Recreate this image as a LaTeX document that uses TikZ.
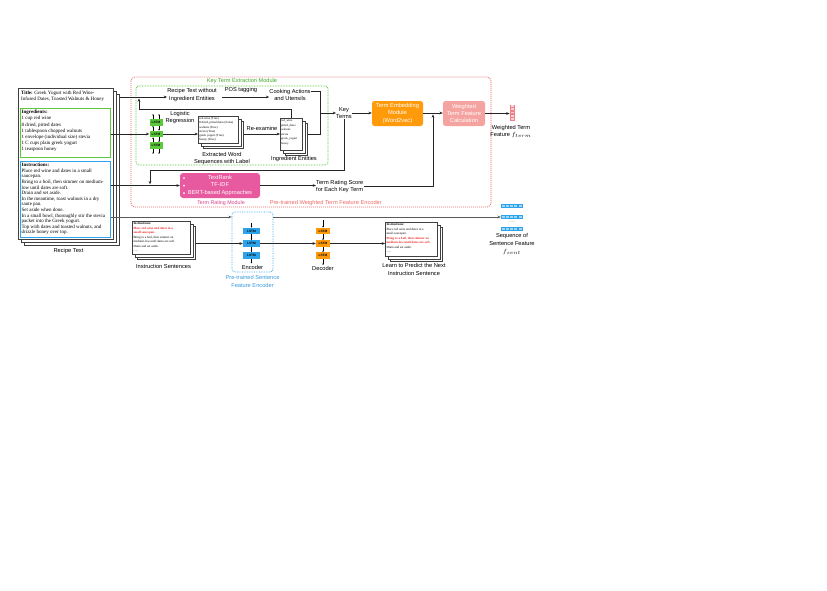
\documentclass[tikz,border=0pt]{standalone}
\usepackage{fontspec}
\setmainfont{Liberation Serif}
\setsansfont{Liberation Sans}
\usetikzlibrary{arrows.meta,calc}
\definecolor{kgreen}{HTML}{5CC83B}
\definecolor{kgreentxt}{HTML}{3DAA22}
\definecolor{kred}{HTML}{F06A6A}
\definecolor{kmag}{HTML}{E85AA0}
\definecolor{kmagtxt}{HTML}{D6408A}
\definecolor{korange}{HTML}{FF9A0A}
\definecolor{ksalmon}{HTML}{F5A3A0}
\definecolor{kpink}{HTML}{F27E86}
\definecolor{kblue}{HTML}{2CA3EA}
\definecolor{kbluetxt}{HTML}{3A9BDC}
\definecolor{ktxtred}{HTML}{F02828}
\newcommand\lbfont{\sffamily\fontsize{5.7}{7.4}\selectfont}
\newcommand\smfont{\rmfamily\fontsize{3.2}{4.5}\selectfont}
\newcommand\tnfont{\rmfamily\fontsize{3.1}{4.2}\selectfont}
\newcommand\lsfont{\sffamily\bfseries\fontsize{3.2}{3.2}\selectfont}
\begin{document}
\begin{tikzpicture}[x=1pt,y=-1pt,
  >={Stealth[length=3.3pt,width=2.7pt]},
  arr/.style={->,draw=black!85,line width=0.8pt},
  plain/.style={draw=black!85,line width=0.8pt},
  sarr/.style={-{Stealth[length=1.4pt,width=1.5pt]},draw=black,line width=0.35pt},
  lbl/.style={font=\lbfont,align=center,inner sep=0pt},
  sheet/.style={draw=black!75,fill=white,line width=0.5pt,anchor=north west,inner sep=0pt},
  fbox/.style={rounded corners=2.5pt,inner sep=0pt,text=white,font=\lbfont,align=center},
  lstm/.style={inner sep=0pt,minimum height=6.5pt,font=\lsfont},
  vec/.style={fill=kblue,minimum width=22pt,minimum height=4pt,inner sep=0pt}
  ]
\useasboundingbox (0,0) rectangle (827,590);
\fill[white] (0,0) rectangle (827,590);

% ---------- frames ----------
\draw[kred,dash pattern=on 1.1pt off 0.9pt,line width=0.75pt,rounded corners=4pt] (131,77) rectangle (491,207);
\draw[kgreen,dash pattern=on 0.8pt off 0.8pt,line width=0.7pt,rounded corners=3pt] (136,86) rectangle (328,165);
\node[font=\sffamily\fontsize{5.6}{6}\selectfont,text=kgreentxt,inner sep=0pt] (ktl) at (242,81.5) {Key Term Extraction Module};
\node[font=\sffamily\fontsize{5.7}{6}\selectfont,text=kred,anchor=east,inner sep=0pt] (ptl) at (382,203.5) {Pre-trained Weighted Term Feature Encoder};

% ---------- recipe card ----------
\node[sheet,minimum width=95pt,minimum height=151pt] (rsC) at (24,94) {};
\node[sheet,minimum width=95pt,minimum height=151pt] (rsB) at (21,91) {};
\node[sheet,minimum width=95pt,minimum height=151pt] (rsA) at (18,88) {};
\node[anchor=north west,inner sep=0pt,align=left,font=\rmfamily\fontsize{5}{6.6}\selectfont] (ttl) at (21,90.5)
  {\textbf{Title:} Greek Yogurt with Red Wine-\\Infused Dates, Toasted Walnuts \& Honey};
\node[draw=kgreen,line width=0.6pt,anchor=north west,minimum width=90pt,minimum height=49pt,inner sep=0pt] (ing) at (20,108) {};
\node[anchor=north west,inner sep=0pt,align=left,font=\rmfamily\fontsize{5}{6.2}\selectfont] (ingt) at (21.5,110)
  {\textbf{Ingredients:}\\1 cup red wine\\8 dried, pitted dates\\1 tablespoon chopped walnuts\\1 envelope (individual size) stevia\\1 C cups plain greek yogurt\\1 teaspoon honey};
\node[draw=kblue,line width=0.6pt,anchor=north west,minimum width=90pt,minimum height=76pt,inner sep=0pt] (ins) at (20,161) {};
\node[anchor=north west,inner sep=0pt,align=left,font=\rmfamily\fontsize{5}{5.6}\selectfont] (inst) at (21.5,163)
  {\textbf{Instructions:}\\Place red wine and dates in a small\\saucepan.\\Bring to a boil, then simmer on medium-\\low until dates are soft.\\Drain and set aside.\\In the meantime, toast walnuts in a dry\\saute pan.\\Set aside when done.\\In a small bowl, thoroughly stir the stevia\\packet into the Greek yogurt.\\Top with dates and toasted walnuts, and\\drizzle honey over top.};
\node[lbl] (rtl) at (68.5,251) {Recipe Text};

% ---------- key term extraction ----------
\node[lbl] (rtw) at (192,95) {Recipe Text without\\Ingredient Entities};
\node[lbl] (pos) at (241,90.5) {POS tagging};
\node[lbl] (ca) at (290,95) {Cooking Actions\\and Utensils};
\draw[arr] (rsC.east |- 0,97) -- (rtw.west |- 0,97);
\draw[arr,shorten <=5pt] (rtw.east |- 0,97) -- (ca.west |- 0,97);

\node[lstm,fill=kgreen,minimum width=13pt] (l1) at (156,122.5) {LSTM};
\node[lstm,fill=kgreen,minimum width=13pt] (l2) at (156,134) {LSTM};
\node[lstm,fill=kgreen,minimum width=13pt] (l3) at (156,145.5) {LSTM};
\draw[sarr] ([xshift=-3pt]l1.north) -- ([xshift=-3pt,yshift=5pt]l1.north);
\draw[sarr] ([xshift=3pt]l1.north) -- ([xshift=3pt,yshift=5pt]l1.north);
\draw[sarr] ([xshift=-3pt]l2.north) -- ([xshift=-3pt]l1.south);
\draw[sarr] ([xshift=3pt]l1.south) -- ([xshift=3pt]l2.north);
\draw[sarr] ([xshift=-3pt]l3.north) -- ([xshift=-3pt]l2.south);
\draw[sarr] ([xshift=3pt]l2.south) -- ([xshift=3pt]l3.north);
\draw[sarr] ([xshift=-3pt]l3.south) -- ([xshift=-3pt,yshift=-5pt]l3.south);
\draw[sarr] ([xshift=3pt]l3.south) -- ([xshift=3pt,yshift=-5pt]l3.south);
\draw[arr] (ing.east |- l2) -- (l2.west);

\node[lbl] (lr) at (180,117.5) {Logistic\\Regression};
\node[sheet,minimum width=40pt,minimum height=27pt] (exC) at (203,121) {};
\node[sheet,minimum width=40pt,minimum height=27pt] (exB) at (200.5,118.5) {};
\node[sheet,minimum width=40pt,minimum height=27pt] (exA) at (198,116) {};
\node[anchor=north west,inner sep=0pt,align=left,font=\tnfont] (ext) at (199.2,117.4)
  {red wine (True)\\8 dried, pitted dates (False)\\walnuts (True)\\stevia (True)\\greek yogurt (True)\\honey (True)};
\node[lbl] (exl) at (222,158.5) {Extracted Word\\Sequences with Label};
\draw[arr] (l2.east) -- (exA.west |- l2);

\node[sheet,minimum width=22pt,minimum height=32pt] (ieC) at (285,123) {};
\node[sheet,minimum width=22pt,minimum height=32pt] (ieB) at (282.5,120.5) {};
\node[sheet,minimum width=22pt,minimum height=32pt] (ieA) at (280,118) {};
\node[anchor=north west,inner sep=0pt,align=left,font=\rmfamily\fontsize{3}{4.6}\selectfont] (iet) at (281,119.3)
  {red\_wine\\pitted\_dates\\walnuts\\stevia\\greek\_yogurt\\honey};
\node[lbl] (iel) at (294,159.5) {Ingredient Entities};
\draw[arr] (exC.east |- l2) -- (ieA.west |- l2);
\node[lbl] (rex) at (262,128) {Re-examine};
\draw[arr] (ieA.north) |- (139,109) -- (139,98.4);

\coordinate (jn) at (320,113);
\draw[plain] (ca.east |- 0,91.5) -| (jn);
\draw[plain] (ieC.east |- l2) -| (jn);
\node[lbl] (kt) at (344,113) {Key\\Terms};
\draw[arr] (jn) -- (kt.west |- jn);

\node[fbox,fill=korange,minimum width=51pt,minimum height=25pt] (te) at (397.5,113.5) {Term Embedding\\Module\\(Word2vec)};
\node[fbox,fill=ksalmon,minimum width=42pt,minimum height=25pt] (wt) at (464,113.5) {Weighted\\Term Feature\\Calculation};
\draw[arr] (kt.east |- jn) -- (te.west |- jn);
\draw[arr] (te.east |- jn) -- (wt.west |- jn);

\node[fill=kpink,minimum width=5.5pt,minimum height=16pt,inner sep=0pt] (ft) at (512.5,112.5) {};
\foreach \k in {0,...,4} \fill[white!65!kpink] (511.2,105.3+\k*3.1) rectangle ++(2.6,1.9);
\draw[arr] (wt.east) -- (ft.west |- wt.east);
\node[lbl] (ftl) at (511,131.5) {Weighted Term\\Feature $f_{term}$};

% ---------- term rating ----------
\node[fbox,fill=kmag,minimum width=80pt,minimum height=25pt,rounded corners=3pt] (tr) at (220,185.5) {TextRank\\TF-IDF\\BERT-based Approaches};
\foreach \yy in {178,185.5,193} \fill[white] (184,\yy) circle (1pt);
\node[font=\sffamily\fontsize{5.3}{6}\selectfont,text=kmagtxt,inner sep=0pt] (trm) at (221,203.5) {Term Rating Module};
\draw[arr] (ins.east |- tr) -- (tr.west);
\node[lbl,anchor=west,align=left] (trs) at (316,186.5) {Term Rating Score\\for Each Key Term};
\draw[arr] (tr.east) -- (trs.west |- tr);
\coordinate (kr) at (150,170);
\coordinate (kr2) at (150,184.3);
\draw[arr] (kt.south) |- (kr) -- (kr2);
\coordinate (jt) at (433,114.4);
\draw[arr] (trs.east) -| (jt);

% ---------- sentence part ----------
\node[sheet,minimum width=58pt,minimum height=33pt] (isC) at (137,226) {};
\node[sheet,minimum width=58pt,minimum height=33pt] (isB) at (134.5,223.5) {};
\node[sheet,minimum width=58pt,minimum height=33pt] (isA) at (132,221) {};
\node[anchor=north west,inner sep=0pt,align=left,font=\smfont] (ist) at (133.3,222.3)
  {\textbf{Instructions:}\\\textcolor{ktxtred}{\textbf{Place red wine and dates in a}}\\\textcolor{ktxtred}{\textbf{small saucepan.}}\\Bring to a boil, then simmer on\\medium-low until dates are soft.\\Drain and set aside.\\......};
\node[lbl] (isl) at (163.5,266.5) {Instruction Sentences};

\node[draw=kblue,densely dotted,line width=0.7pt,rounded corners=3pt,minimum width=41pt,minimum height=60pt,inner sep=0pt] (enc) at (252.5,242) {};
\node[lstm,fill=kblue,minimum width=17pt] (e1) at (251.5,231) {LSTM};
\node[lstm,fill=kblue,minimum width=17pt] (e2) at (251.5,243.5) {LSTM};
\node[lstm,fill=kblue,minimum width=17pt] (e3) at (251.5,255.5) {LSTM};
\draw[sarr] ([yshift=5pt]e1.north) -- (e1.north);
\draw[sarr] (e1.south) -- (e2.north);
\draw[sarr] (e2.south) -- (e3.north);
\draw[sarr] (e3.south) -- ([yshift=-4.5pt]e3.south);
\node[lbl] (encl) at (252.5,267.5) {Encoder};
\node[lbl,text=kbluetxt] (pse) at (252.5,281.5) {Pre-trained Sentence\\Feature Encoder};

\node[lstm,fill=korange,minimum width=14pt] (d1) at (323,231) {LSTM};
\node[lstm,fill=korange,minimum width=14pt] (d2) at (323,243.5) {LSTM};
\node[lstm,fill=korange,minimum width=14pt] (d3) at (323,255.5) {LSTM};
\draw[sarr] ([yshift=8pt]d1.north) -- (d1.north);
\draw[sarr] (d1.south) -- (d2.north);
\draw[sarr] (d2.south) -- (d3.north);
\draw[sarr] (d3.south) -- ([yshift=-6pt]d3.south);
\node[lbl] (decl) at (323,268) {Decoder};

\node[sheet,minimum width=52pt,minimum height=34pt] (lcC) at (390,227) {};
\node[sheet,minimum width=52pt,minimum height=34pt] (lcB) at (387.5,224.5) {};
\node[sheet,minimum width=52pt,minimum height=34pt] (lcA) at (385,222) {};
\node[anchor=north west,inner sep=0pt,align=left,font=\smfont] (lct) at (386.3,223.3)
  {\textbf{Instructions:}\\Place red wine and dates in a\\small saucepan.\\\textcolor{ktxtred}{\textbf{Bring to a boil, then simmer on}}\\\textcolor{ktxtred}{\textbf{medium-low until dates are soft.}}\\Drain and set aside.\\......};
\node[lbl] (lcl) at (414,269.5) {Learn to Predict the Next\\Instruction Sentence};

\draw[arr] (isC.east |- e2) -- (e2.west);
\draw[arr] (e2.east) -- (d2.west);
\draw[arr] (d2.east) -- (lcA.west |- d2);

\node[vec] (sv1) at (512,205.5) {};
\node[vec] (sv2) at (512,217) {};
\node[vec] (sv3) at (512,228.5) {};
\foreach \v in {sv1,sv2,sv3} \foreach \k in {0,...,4} \fill[white!55!kblue] ($(\v.west)+(1+\k*4.2,-1)$) rectangle ++(3,2);
\node[font=\sffamily\fontsize{4}{4}\selectfont,text=black!55,inner sep=0pt] (vdots) at (512,222) {......};
\node[lbl] (sfl) at (512,239.5) {Sequence of\\Sentence Feature};
\node[font=\fontsize{6.5}{7}\selectfont,inner sep=0pt] (fs) at (512,251.5) {$f_{sent}$};

\draw[arr,draw=black!65,line width=1pt] (ins.east |- 0,217) -- (enc.west |- 0,217);
\draw[arr,draw=black!65,line width=1pt] (enc.east |- 0,217) -- (sv2.west);
\end{tikzpicture}
\end{document}
